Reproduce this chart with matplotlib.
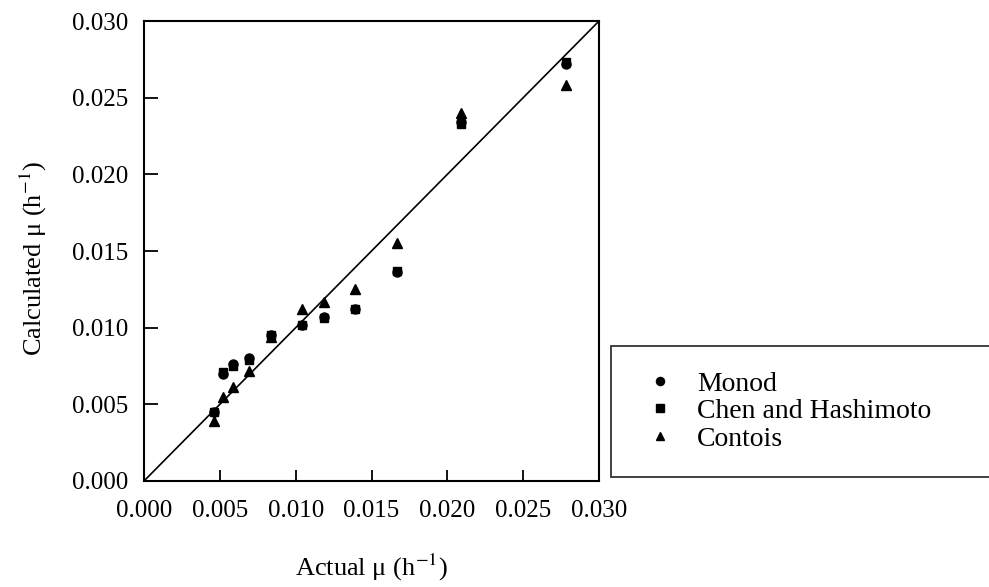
import matplotlib
matplotlib.use("Agg")
import matplotlib.pyplot as plt

plt.rcParams['font.family'] = ['Liberation Serif', 'DejaVu Serif']
plt.rcParams['mathtext.fontset'] = 'stix'

# actual growth rates (h^-1) and the three model predictions
actual = [0.0046, 0.0052, 0.0059, 0.0069, 0.0084, 0.0104, 0.0119, 0.0139, 0.0167, 0.0209, 0.0278]
monod = [0.0045, 0.0070, 0.0076, 0.0080, 0.0095, 0.0102, 0.0107, 0.0112, 0.0136, 0.0234, 0.0272]
chen_hashimoto = [0.0045, 0.0071, 0.0075, 0.0079, 0.0095, 0.0102, 0.0106, 0.0112, 0.0137, 0.0233, 0.0273]
contois = [0.0039, 0.0055, 0.0061, 0.0072, 0.0094, 0.0112, 0.0117, 0.0125, 0.0155, 0.0240, 0.0258]
ticks = [0.000, 0.005, 0.010, 0.015, 0.020, 0.025, 0.030]

fig = plt.figure(figsize=(9.89, 5.87), dpi=100)
ax = fig.add_axes([0.1456, 0.1806, 0.4601, 0.7836])

ax.plot([0, 0.03], [0, 0.03], color='black', lw=1.2)
ax.plot(actual, monod, 'o', color='black', ms=6.5, label='Monod')
ax.plot(actual, chen_hashimoto, 's', color='black', ms=6, label='Chen and Hashimoto')
ax.plot(actual, contois, '^', color='black', ms=6.5, label='Contois')

ax.set_xlim(0, 0.03)
ax.set_ylim(0, 0.03)
ax.set_xticks(ticks)
ax.set_yticks(ticks)
ax.set_xticklabels(['%.3f' % t for t in ticks])
ax.set_yticklabels(['%.3f' % t for t in ticks])
ax.tick_params(axis='x', direction='in', length=8, width=1.3, pad=14, labelsize=18)
ax.tick_params(axis='y', direction='in', length=10, width=1.3, pad=11, labelsize=18)
for s in ax.spines.values():
    s.set_linewidth(1.5)

fig.text(0.375, 0.034, r'Actual $\mathregular{\mu}$ (h$^{-1}$)', ha='center', va='center', fontsize=19)
fig.text(0.034, 0.56, r'Calculated $\mathregular{\mu}$ (h$^{-1}$)', ha='center', va='center',
         rotation=90, fontsize=19)

leg = fig.legend(loc='center left', bbox_to_anchor=(0.6178, 0.1823, 0.45, 0.2334), mode='expand',
                 fontsize=20, frameon=True, fancybox=False, edgecolor='black', borderpad=0.9,
                 labelspacing=0.08, handlelength=1.7, handletextpad=0.5, markerscale=0.9,
                 borderaxespad=0)
leg.get_frame().set_linewidth(1.3)

fig.savefig('out.png', dpi=100)
